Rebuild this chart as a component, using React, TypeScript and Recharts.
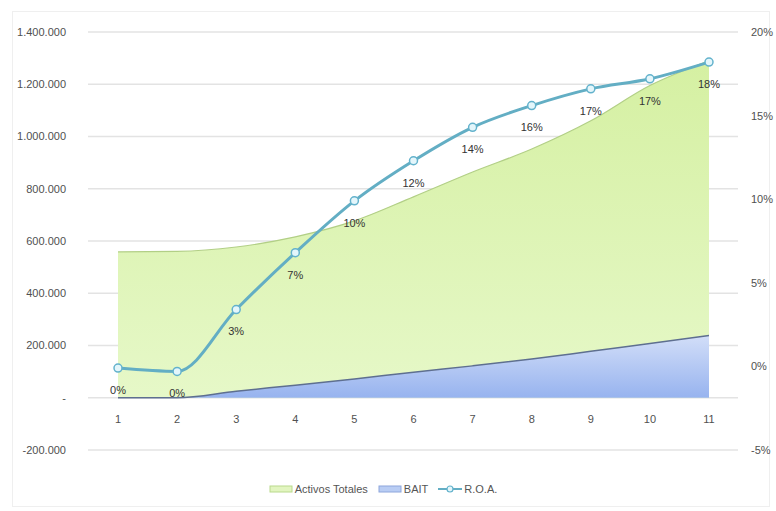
import React from "react";
import {
  Area,
  CartesianGrid,
  ComposedChart,
  LabelList,
  Legend,
  Line,
  XAxis,
  YAxis,
} from "recharts";

// Periods 1..11
const periods = ["1", "2", "3", "4", "5", "6", "7", "8", "9", "10", "11"];
const activosTotales = [558000, 560000, 577000, 616000, 677000, 769000, 864000, 952000, 1060000, 1195000, 1290000];
const bait = [0, 0, 25000, 48000, 72000, 98000, 122000, 148000, 178000, 208000, 238000];
const roa = [-0.1, -0.3, 3.4, 6.8, 9.9, 12.3, 14.3, 15.6, 16.6, 17.2, 18.2];

const leftTicks = [-200000, 0, 200000, 400000, 600000, 800000, 1000000, 1200000, 1400000];
const rightTicks = [-5, 0, 5, 10, 15, 20];

const data = periods.map((p, i) => ({
  period: p,
  activos: activosTotales[i],
  bait: bait[i],
  roa: roa[i],
}));

const FONT = "'Liberation Sans', Arial, sans-serif";
const TICK = { fill: "#505050", fontSize: 11, fontFamily: FONT };

const fmtMiles = (v: number) => {
  if (v === 0) return "-";
  const s = String(Math.abs(v)).replace(/\B(?=(\d{3})+(?!\d))/g, ".");
  return v < 0 ? `-${s}` : s;
};

const fmtPct = (v: number) => `${Math.round(v)}%`;

function LegendContent({ payload }: any) {
  return (
    <div style={{ display: "flex", justifyContent: "center", alignItems: "center", fontFamily: FONT, fontSize: 11, color: "#555" }}>
      {(payload || []).map((entry: any) => (
        <div key={entry.value} style={{ display: "flex", alignItems: "center", marginRight: 10 }}>
          {entry.dataKey === "roa" ? (
            <svg width={24} height={10} style={{ marginRight: 2 }}>
              <line x1={0} y1={5} x2={24} y2={5} stroke="#63aec4" strokeWidth={2} />
              <circle cx={12} cy={5} r={3} fill="#e4f6fb" stroke="#63b2cc" strokeWidth={1.2} />
            </svg>
          ) : (
            <svg width={24} height={10} style={{ marginRight: 2 }}>
              <rect
                x={1}
                y={2}
                width={22}
                height={6}
                fill={entry.dataKey === "activos" ? "#e2f5c0" : "#b9cdf4"}
                stroke={entry.dataKey === "activos" ? "#b9d98c" : "#8ea6dc"}
              />
            </svg>
          )}
          <span>{entry.value}</span>
        </div>
      ))}
    </div>
  );
}

export default function App() {
  return (
    <div style={{ position: "absolute", left: 0, top: 0, width: 776, height: 511, background: "#fff" }}>
      <div
        style={{
          position: "absolute",
          left: 12,
          top: 11,
          width: 758,
          height: 496,
          border: "1px solid #efefef",
          boxSizing: "border-box",
        }}
      />
      <ComposedChart
        width={776}
        height={511}
        data={data}
        margin={{ top: 32, right: 0, bottom: 3, left: 0 }}
        style={{ position: "absolute", left: 0, top: 0 }}
      >
        <defs>
          <linearGradient id="gActivos" x1="0" y1="0" x2="0" y2="1">
            <stop offset="0%" stopColor="#d5f0a2" />
            <stop offset="100%" stopColor="#e6f8c8" />
          </linearGradient>
          <linearGradient id="gBait" x1="0" y1="0" x2="0" y2="1">
            <stop offset="0%" stopColor="#d2def8" />
            <stop offset="100%" stopColor="#97b3ef" />
          </linearGradient>
        </defs>
        <CartesianGrid vertical={false} stroke="#e3e3e3" strokeWidth={1.5} yAxisId="left" />
        <XAxis
          dataKey="period"
          axisLine={false}
          tickLine={false}
          stroke="#505050"
          height={33}
          padding={{ left: 30, right: 29 }}
          tick={{ ...TICK, dy: -43 }}
        />
        <YAxis
          yAxisId="left"
          domain={[-200000, 1400000]}
          ticks={leftTicks}
          tickFormatter={fmtMiles}
          width={88}
          axisLine={false}
          tickLine={false}
          stroke="#505050"
          tickMargin={16}
          tick={TICK}
        />
        <YAxis
          yAxisId="right"
          orientation="right"
          domain={[-5, 20]}
          ticks={rightTicks}
          tickFormatter={(v: number) => `${v}%`}
          width={38}
          axisLine={false}
          tickLine={false}
          stroke="#505050"
          tickMargin={7}
          tick={TICK}
        />
        <Legend verticalAlign="bottom" height={25} content={<LegendContent />} />
        <Area
          yAxisId="left"
          type="monotone"
          dataKey="activos"
          name="Activos Totales"
          stroke="#b2cf86"
          strokeWidth={1.2}
          fill="url(#gActivos)"
          fillOpacity={1}
          baseValue={0}
          isAnimationActive={false}
        />
        <Area
          yAxisId="left"
          type="monotone"
          dataKey="bait"
          name="BAIT"
          stroke="#5e6f90"
          strokeWidth={1.5}
          fill="url(#gBait)"
          fillOpacity={1}
          baseValue={0}
          isAnimationActive={false}
        />
        <Line
          yAxisId="right"
          type="monotone"
          dataKey="roa"
          name="R.O.A."
          stroke="#63aec4"
          strokeWidth={3}
          dot={{ r: 4, fill: "#e4f6fb", stroke: "#63b2cc", strokeWidth: 1.5 }}
          isAnimationActive={false}
        >
          <LabelList
            dataKey="roa"
            position="bottom"
            offset={18}
            formatter={(v: any) => fmtPct(Number(v))}
            style={{ fill: "#333", fontSize: 11, fontFamily: FONT }}
          />
        </Line>
      </ComposedChart>
    </div>
  );
}
